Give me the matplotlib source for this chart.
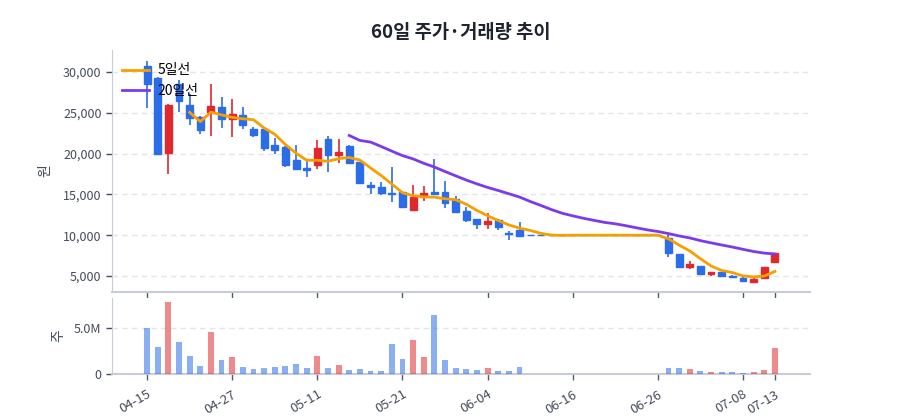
import numpy as np
import pandas as pd
import matplotlib
matplotlib.use("Agg")
import matplotlib.pyplot as plt
from matplotlib.ticker import FuncFormatter

plt.rcParams['font.family'] = ['Noto Sans CJK KR', 'DejaVu Sans']

# 60 trading days
dates = ['04-15', '04-16', '04-17', '04-20', '04-21', '04-22', '04-23', '04-24', '04-27', '04-28',
         '04-29', '04-30', '05-04', '05-06', '05-07', '05-08', '05-11', '05-12', '05-13', '05-14',
         '05-15', '05-18', '05-19', '05-20', '05-21', '05-22', '05-26', '05-27', '05-28', '05-29',
         '06-01', '06-02', '06-04', '06-05', '06-08', '06-09', '06-10', '06-11', '06-12', '06-15',
         '06-16', '06-17', '06-18', '06-19', '06-22', '06-23', '06-24', '06-25', '06-26', '06-29',
         '06-30', '07-01', '07-02', '07-03', '07-06', '07-07', '07-08', '07-09', '07-10', '07-13']

opens = [30700, 29300, 20100, 28500, 25950, 24500, 25150, 25750, 24250, 24750,
         23000, 23000, 21000, 20800, 19200, 18300, 18650, 21800, 19800, 20950,
         18950, 16200, 15950, 15150, 15300, 13050, 14800, 15300, 15250, 14400,
         13000, 11950, 11400, 11850, 10300, 10700, 10000, 10000, 10000, 10000,
         10000, 10000, 10000, 10000, 10000, 10000, 10000, 10000, 10000, 9600,
         7700, 6100, 6200, 5200, 5450, 5050, 4800, 4300, 4750, 6700]
highs = [31350, 29400, 26050, 29000, 27300, 24600, 28500, 26900, 26700, 25700,
         23300, 23100, 21950, 20900, 21000, 19150, 21650, 22200, 21750, 21000,
         19000, 16500, 16500, 18400, 15400, 16100, 16050, 19400, 16650, 14750,
         13400, 12000, 12700, 12000, 10500, 11600, 10000, 10000, 10000, 10000,
         10000, 10000, 10000, 10000, 10000, 10000, 10000, 10000, 10000, 10000,
         7750, 6900, 6250, 5550, 5500, 5150, 5050, 4950, 6050, 7850]
lows = [25600, 19900, 17500, 25100, 23500, 22400, 22200, 23200, 22100, 23000,
        22100, 20350, 19950, 18400, 18000, 17150, 18100, 17700, 18900, 18700,
        16300, 15050, 14900, 14100, 13400, 13050, 14250, 15050, 13300, 12800,
        11650, 10800, 10750, 10700, 9400, 9800, 10000, 10000, 10000, 10000,
        10000, 10000, 10000, 10000, 10000, 10000, 10000, 10000, 10000, 7300,
        6100, 5850, 5200, 5000, 4950, 4750, 4350, 4250, 4700, 6650]
closes = [28500, 20000, 26000, 26400, 24400, 22850, 25800, 24300, 24900, 23500,
          22300, 20750, 20450, 18600, 18150, 18000, 20750, 19800, 20200, 18900,
          16400, 15950, 15150, 15000, 13500, 14650, 15150, 15050, 14000, 12900,
          11850, 11400, 11800, 11050, 10200, 9900, 10000, 10000, 10000, 10000,
          10000, 10000, 10000, 10000, 10000, 10000, 10000, 10000, 10000, 7770,
          6150, 6450, 5250, 5550, 5000, 4850, 4400, 4650, 6050, 7850]
volumes_m = [4.95, 2.9, 7.8, 3.45, 2.0, 0.83, 4.6, 1.5, 1.9, 0.75,
             0.5, 0.65, 0.75, 0.85, 1.05, 0.6, 1.95, 0.65, 0.98, 0.43,
             0.5, 0.3, 0.3, 3.25, 1.6, 3.7, 1.85, 6.4, 1.5, 0.6,
             0.5, 0.43, 0.6, 0.3, 0.32, 0.72, 0, 0, 0, 0,
             0, 0, 0, 0, 0, 0, 0, 0, 0, 0.6,
             0.65, 0.5, 0.32, 0.2, 0.2, 0.17, 0.12, 0.2, 0.4, 2.85]
tick_idx = [0, 8, 16, 24, 32, 40, 48, 56, 59]

UP = '#e0282e'
DOWN = '#2b6de8'
TXT = '#444b5a'
SPINE = '#c8ccd6'

df = pd.DataFrame({'open': opens, 'high': highs, 'low': lows, 'close': closes,
                   'vol': np.array(volumes_m) * 1e6})
x = np.arange(len(df))
up = df['close'] > df['open']
colors = np.where(up, UP, DOWN)
ma5 = df['close'].rolling(5).mean()
ma20 = df['close'].rolling(20).mean()

fig = plt.figure(figsize=(9, 4.2), dpi=100)
ax = fig.add_axes([0.1244, 0.3048, 0.7756, 0.576])
axv = fig.add_axes([0.1244, 0.1095, 0.7756, 0.181])

# candles
ax.vlines(x, df['low'], df['high'], colors=colors, linewidth=1.2, zorder=2)
body_lo = np.minimum(df['open'], df['close'])
body_h = np.abs(df['close'] - df['open'])
ax.bar(x, body_h, bottom=body_lo, width=0.65, color=colors, edgecolor=colors,
       linewidth=1.0, zorder=3)

ax.plot(x, ma5, color='#f59f00', linewidth=2, label='5일선', zorder=4)
ax.plot(x, ma20, color='#7c3aed', linewidth=2, label='20일선', zorder=4)

ax.set_xlim(-3.3, 62.3)
ax.set_ylim(3040, 32700)
ax.set_yticks([5000, 10000, 15000, 20000, 25000, 30000])
ax.yaxis.set_major_formatter(FuncFormatter(lambda v, p: f'{int(v):,}'))
ax.set_xticks(tick_idx)
ax.set_xticklabels([])
ax.set_ylabel('원', color=TXT, fontsize=10, labelpad=8)
ax.grid(axis='y', color='#e3e5ea', linestyle=(0, (4, 3)), linewidth=1)
ax.set_axisbelow(True)
leg = ax.legend(loc='upper left', bbox_to_anchor=(0.0, 0.985), frameon=False,
                fontsize=10, handlelength=2.0, handletextpad=0.6,
                borderaxespad=0.3, labelspacing=0.45)

# volume
vcol = [UP if u else DOWN for u in up]
axv.bar(x, df['vol'], width=0.55, color=vcol, alpha=0.55, zorder=3)
axv.set_xlim(-3.3, 62.3)
axv.set_ylim(0, 8.26e6)
axv.set_yticks([0, 5e6])
axv.yaxis.set_major_formatter(FuncFormatter(lambda v, p: '0' if v == 0 else f'{v / 1e6:.1f}M'))
axv.set_xticks(tick_idx)
axv.set_xticklabels([dates[i] for i in tick_idx], rotation=30, ha='right',
                    rotation_mode='anchor')
axv.set_ylabel('주', color=TXT, fontsize=10, labelpad=6)
axv.grid(axis='y', color='#e3e5ea', linestyle=(0, (4, 3)), linewidth=1)
axv.set_axisbelow(True)

for a in (ax, axv):
    for s in ('top', 'right'):
        a.spines[s].set_visible(False)
    a.spines['left'].set_color(SPINE)
    a.spines['bottom'].set_color(SPINE)
    a.spines['bottom'].set_linewidth(1.5)
    a.tick_params(colors=TXT, labelsize=9, length=4, width=1)
    a.tick_params(axis='x', colors='#555b66', labelsize=9.5, pad=6)
    for lbl in a.get_xticklabels() + a.get_yticklabels():
        lbl.set_color(TXT)

fig.suptitle('60일 주가·거래량 추이', x=0.512, y=0.945, fontsize=13.5, fontweight='bold',
             color='#1f2430')

fig.savefig('out.png', dpi=100)
